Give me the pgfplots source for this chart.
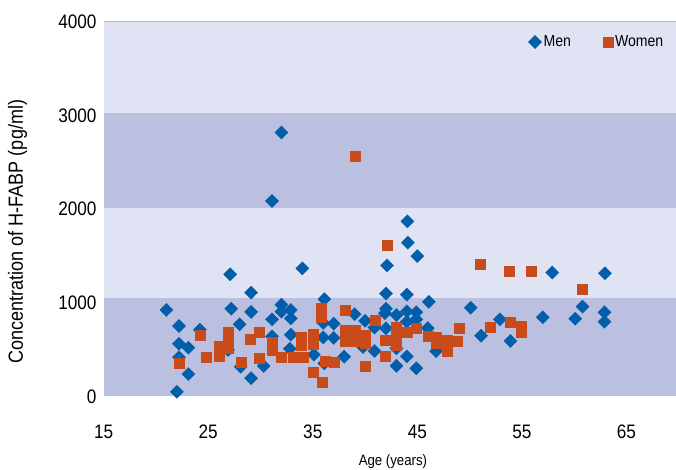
\documentclass[border=0pt]{standalone}
\usepackage{pgfplots}
\pgfplotsset{compat=1.18}
\usepackage{fontspec}
\setmainfont{Liberation Sans}[FakeStretch=0.88]
\definecolor{menc}{RGB}{0,94,170}
\definecolor{womc}{RGB}{200,75,25}
\definecolor{lightband}{RGB}{224,227,243}
\definecolor{darkband}{RGB}{188,192,224}
\definecolor{topline}{RGB}{176,180,222}
\begin{document}
\begin{tikzpicture}
\begin{axis}[
  at={(0,0)}, anchor=south west,
  scale only axis, width=575pt, height=374.5pt,
  xmin=15, xmax=70, ymin=0, ymax=4000,
  xtick={15,25,...,65}, ytick={0,1000,...,4000},
  axis line style={draw=none},
  major tick length=0pt,
  tick label style={font=\fontsize{19.5}{21}\selectfont},
  /pgf/number format/assume math mode=true,
  /pgf/number format/1000 sep={},
  scaled y ticks=false,
  xticklabel style={anchor=center, yshift=-35.5pt},
  yticklabel style={anchor=east, inner sep=0pt, xshift=-7pt},
  xlabel={Age (years)}, ylabel={Concentration of H-FABP (pg/ml)},
  xlabel style={font=\fontsize{15}{17}\selectfont, at={(axis description cs:0.503,-0.175)}, anchor=center},
  ylabel style={font=\fontsize{20.5}{22}\selectfont, at={(axis description cs:-0.1496,0.44)}, anchor=center, rotate=0},
  axis background/.style={fill=lightband},
  legend style={at={(axis description cs:0.977,0.9466)}, anchor=east, draw=none, fill=none, inner sep=0pt,
    font=\fontsize{16}{18}\selectfont, legend columns=2,
    /tikz/every even column/.append style={column sep=30pt}},
  legend image code/.code={\draw[mark repeat=2,mark phase=2,#1] plot coordinates {(0cm,0cm) (0.15cm,0cm) (0.3cm,0cm)};},
]
\fill[darkband] (axis cs:15,0) rectangle (axis cs:70,1050);
\fill[darkband] (axis cs:15,2015) rectangle (axis cs:70,3030);
\draw[topline, line width=1pt] (axis cs:15,4000) -- (axis cs:70,4000);
\addplot[only marks, mark=square*, mark size=4.7pt, mark options={rotate=45, fill=menc, draw=menc, line width=0.2pt}] coordinates {
(21.0,925) (22.0,50) (22.2,753) (22.2,564) (22.2,420) (23.1,521) (23.1,240) (24.2,713)
(26.9,497) (27.1,1305) (27.2,938) (28.0,771) (28.1,318) (29.1,1110) (29.1,904) (29.1,196)
(30.3,326) (31.1,2088) (31.1,824) (31.1,642) (32.0,2820) (32.0,981) (32.0,906) (32.9,924)
(32.9,835) (32.9,660) (32.8,510) (34.0,1369) (35.1,447) (36.1,1040) (36.0,786) (36.0,630)
(36.1,354) (37.0,778) (37.0,626) (38.0,425) (39.0,879) (40.0,808) (39.8,528) (40.9,737)
(40.9,486) (42.1,1400) (42.0,1100) (42.0,938) (41.9,890) (42.0,728) (43.0,870) (43.0,514)
(43.0,328) (44.05,1871) (44.1,1643) (44.0,1088) (44.0,910) (44.0,800) (44.0,428) (44.9,900)
(44.9,824) (44.9,301) (45.0,1500) (46.1,1011) (46.0,730) (46.8,484) (50.1,948) (51.1,649)
(52.9,824) (53.9,593) (57.0,846) (57.9,1324) (60.1,831) (60.8,960) (62.95,1316) (62.9,899)
(62.9,799)
};
\addlegendentry{Men}
\addplot[only marks, mark=square*, mark size=5pt, mark options={fill=womc, draw=womc, line width=0.2pt}] coordinates {
(22.2,361) (24.2,657) (24.8,425) (26.0,539) (26.0,432) (26.9,692) (26.9,585) (26.9,515)
(28.1,372) (29.05,614) (29.9,684) (29.9,406) (31.1,585) (31.1,492) (32.0,425) (33.1,425)
(33.9,639) (33.9,550) (34.1,425) (35.0,666) (35.0,555) (35.0,265) (35.8,945) (35.8,844)
(35.9,158) (36.2,382) (37.0,372) (38.1,924) (38.1,714) (39.0,714) (38.1,594) (39.0,594)
(39.0,2565) (40.0,657) (40.0,568) (40.0,329) (41.0,817) (41.9,598) (41.9,432) (42.1,1618)
(43.0,745) (43.0,639) (43.0,550) (44.0,692) (44.9,728) (46.0,646) (46.8,639) (46.8,575)
(47.8,603) (47.8,489) (48.8,596) (49.0,735) (51.0,1415) (52.0,742) (53.8,1342) (53.9,796)
(54.9,756) (54.9,686) (55.9,1342) (60.8,1150)
};
\addlegendentry{Women}
\end{axis}
\pgfresetboundingbox
\path (-103.7pt,-73.5pt) rectangle (572.3pt,396.5pt);
\end{tikzpicture}
\end{document}
